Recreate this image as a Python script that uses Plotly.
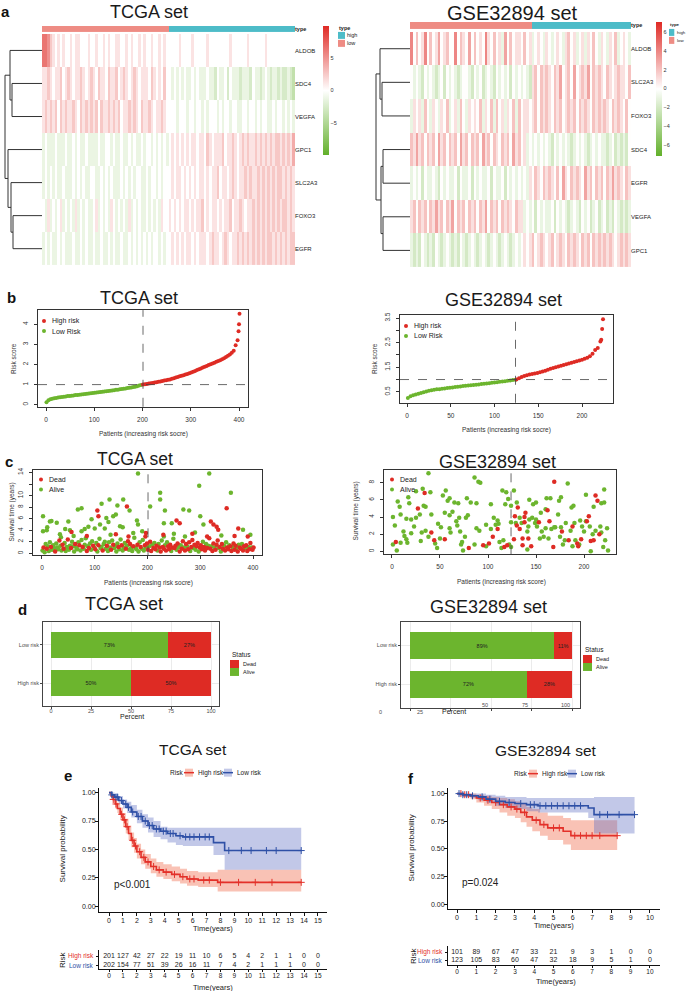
import plotly.graph_objects as go

W, H = 686, 991
FONT = "Liberation Sans, Arial, Helvetica, sans-serif"
RED = "#DE2B24"
GREEN = "#6CB52E"
KM_RED = "#E3312A"
KM_BLUE = "#2F50A6"
SALMON = "#EE8C84"
TEAL = "#4DBCC8"

# ======================= DATA =======================
# (a) heatmaps: expression bins per gene (digit 4 = 0), columns ordered low-risk -> high-risk
tcga_genes = ["ALDOB", "SDC4", "VEGFA", "GPC1", "SLC2A3", "FOXO3", "EGFR"]
tcga_bins = [
    "9986545454 4545544454 4544545445 5445454454 5445445454 4444544445 4444454444 4444544444 4544444454 4444444444",
    "5565455645 6545565456 5465546556 4565456545 5546545464 4343434334 3433343324 3342433323 3324332343 2332322321",
    "5656564656 5565465656 5646556565 6455656546 5565455654 4443444344 3443434443 4344344334 4344343443 3434434343",
    "3433343334 3343433433 3343344343 3433434334 3443434343 4545454545 5455465455 5645565456 5655656565 6566565657",
    "3434343343 3343434334 4334343433 3434343443 3434434344 4545545454 5455454556 4554565455 6565565656 5656656565",
    "4353434534 3435343433 4534343543 4343534343 3434343544 5454545545 4556454554 5455645565 4556565656 5656566565",
    "3434334343 3343343433 4334334343 3433434343 4343443434 4545454554 5455545655 4565455656 5656565656 6565656566",
]
tcga_n_low_cols = 50
tcga_bin_step = 1.3
tcga_merges = [("SDC4", "VEGFA", 30), ("ALDOB", "m0", 32), ("FOXO3", "EGFR", 29),
               ("SLC2A3", "m2", 31), ("GPC1", "m3", 34), ("m1", "m4", 37)]

gse_genes = ["ALDOB", "SLC2A3", "FOXO3", "SDC4", "EGFR", "VEGFA", "GPC1"]
gse_bins = [
    "8464584645 7456448465 4746454854 6453746455 4645345435 4345435645 3453546435 4354634543",
    "4343243432 3424343234 4324342343 2434342434 3432564656 5465745647 4565746565 4654565546",
    "3545364354 3546345364 3545463546 3645354636 4554564656 5465645656 4656546565 6546565464",
    "6575646564 7564656475 6465647564 6546564756 4534343434 3243434323 4343234343 3234232324",
    "3434243343 2434334243 3424343342 4334243434 3435465465 6546475465 6547564656 4657565465",
    "5646564657 5646574656 4656465746 5646565465 5343424343 3424343234 3243423423 4232432323",
    "3232432324 3234323243 2343234323 4323432343 4545645654 5645654656 5465646565 6565456565",
]
gse_n_low_cols = 44
gse_bin_step = 1.0
gse_merges = [("SLC2A3", "FOXO3", 28), ("ALDOB", "m0", 30), ("SDC4", "EGFR", 27),
              ("VEGFA", "GPC1", 27), ("m2", "m3", 29), ("m1", "m4", 34)]

# (b) risk score curves
tcga_low_score = [0.13, 0.22, 0.27, 0.30, 0.32, 0.34, 0.36, 0.37, 0.39, 0.40,
                  0.41, 0.43, 0.44, 0.45, 0.46, 0.48, 0.49, 0.50, 0.51, 0.52,
                  0.54, 0.55, 0.56, 0.57, 0.58, 0.60, 0.61, 0.62, 0.63, 0.64,
                  0.66, 0.67, 0.68, 0.70, 0.71, 0.72, 0.74, 0.75, 0.77, 0.78,
                  0.80, 0.81, 0.83, 0.85, 0.86, 0.88, 0.90, 0.92, 0.95, 0.98]
tcga_high_score = [1.00, 1.02, 1.03, 1.05, 1.07, 1.08, 1.10, 1.12, 1.14, 1.16,
                   1.18, 1.20, 1.22, 1.24, 1.26, 1.29, 1.32, 1.35, 1.38, 1.41,
                   1.44, 1.47, 1.50, 1.53, 1.56, 1.60, 1.64, 1.68, 1.72, 1.76,
                   1.80, 1.85, 1.89, 1.93, 1.97, 2.01, 2.05, 2.09, 2.13, 2.17,
                   2.21, 2.26, 2.31, 2.37, 2.43, 2.50, 2.58, 2.68, 2.95, 3.20]
tcga_top_patient = [399, 400, 401]
tcga_top_score = [3.65, 4.00, 4.52]
tcga_n_low = 201
tcga_cutoff = 1.0

gse_low_score = [0.25, 0.32, 0.36, 0.39, 0.42, 0.45, 0.48, 0.51, 0.54, 0.56,
                 0.58, 0.60, 0.61, 0.63, 0.64, 0.66, 0.67, 0.68, 0.70, 0.71,
                 0.72, 0.74, 0.75, 0.76, 0.77, 0.78, 0.79, 0.80, 0.82, 0.83,
                 0.84, 0.85, 0.87, 0.88, 0.89, 0.91, 0.92, 0.93, 0.95, 0.96,
                 0.98, 0.99]
gse_high_score = [1.00, 1.05, 1.10, 1.14, 1.17, 1.20, 1.22, 1.24, 1.27, 1.30,
                  1.33, 1.36, 1.40, 1.44, 1.47, 1.50, 1.53, 1.56, 1.59, 1.62,
                  1.65, 1.68, 1.71, 1.74, 1.77, 1.80, 1.84, 1.88, 1.95, 2.05,
                  2.20, 2.28, 2.55, 3.45]
gse_top_patient = [222, 223]
gse_top_score = [2.62, 3.05]
gse_n_low = 124
gse_cutoff = 1.0

# (c) survival time per patient (TCGA: dense low cluster sampled every 2nd patient + extra points)
tcga_cluster_time = [
    0.5, 1.0, 0.2, 1.6, 0.8, 1.2, 0.4, 1.9, 1.1, 0.6,
    1.4, 0.9, 0.3, 1.7, 1.0, 0.7, 2.2, 1.3, 0.5, 1.5,
    0.8, 1.8, 0.4, 1.1, 2.4, 0.6, 1.3, 0.9, 2.0, 1.2,
    0.3, 1.6, 1.0, 0.7, 1.9, 1.4, 0.5, 2.3, 1.1, 0.8,
    1.5, 2.6, 0.4, 1.2, 0.9, 1.7, 0.6, 2.1, 1.3, 1.0,
    0.7, 1.8, 0.3, 1.4, 2.5, 0.9, 1.1, 0.5, 1.6, 2.0,
    0.8, 1.3, 0.4, 1.9, 1.0, 0.6, 2.2, 1.5, 0.9, 1.2,
    0.3, 1.7, 1.1, 0.7, 2.4, 1.4, 0.5, 1.0, 1.8, 0.8,
    1.3, 2.1, 0.6, 1.6, 0.9, 0.4, 1.2, 2.7, 1.0, 0.7,
    1.5, 0.3, 1.9, 1.1, 0.8, 2.3, 0.5, 1.4, 1.0, 1.7,
    0.6, 1.2, 2.0, 0.4, 1.5, 0.9, 1.8, 0.7, 1.3, 0.5,
    1.6, 1.0, 0.3, 2.2, 1.1, 0.8, 1.4, 0.5, 1.9, 1.2,
    0.7, 1.5, 0.4, 1.0, 2.5, 0.9, 1.3, 0.6, 1.7, 1.1,
    0.3, 1.4, 0.8, 2.1, 1.0, 0.5, 1.6, 1.2, 0.7, 1.9,
    0.4, 1.1, 2.3, 0.9, 1.5, 0.6, 1.2, 1.8, 0.3, 1.0,
    1.4, 0.7, 2.0, 1.1, 0.5, 1.6, 0.9, 1.3, 2.6, 0.8,
    1.2, 0.4, 1.7, 1.0, 0.6, 1.5, 2.2, 0.9, 1.1, 0.3,
    1.6, 0.8, 1.3, 0.5, 1.9, 1.0, 0.7, 1.4, 1.2, 0.4,
    1.1, 1.7, 0.6, 1.3, 0.9, 0.3, 1.5, 1.0, 0.8, 1.6,
    0.5, 1.2, 0.9, 1.4, 0.4, 1.1, 0.7, 1.8, 1.0, 0.6,
    1.0]
tcga_cluster_status = ("ADAADAAADA" "AADAAADAAD" "DAAADAADAA" "ADAAADAADA" "AADADAAADA"
                       "DAADAAADAA" "ADAAADADAA" "AADAADAAAD" "ADADAADAAA" "DAADAAADAD"
                       "DADDADADDA" "ADDADDADAD" "DDADADDADA" "DADDADDADD" "ADDADADDAD"
                       "DDADDADADD" "ADDADDDADA" "DDADADDADD" "ADDDADADDA" "DDADDADDAD" "D")
tcga_alive_x = [2, 2, 9, 10, 15, 18, 28, 34, 36, 44, 50, 53, 68, 75, 75, 81, 88, 94, 100, 110,
                113, 119, 122, 126, 128, 135, 140, 143, 148, 153, 154, 166, 173, 180, 182, 182,
                205, 224, 224, 231, 231, 233, 246, 268, 271, 279, 298, 300, 306, 317, 358, 381,
                60, 130, 190, 250, 290, 340, 395]
tcga_alive_t = [6.4, 3.8, 4.0, 4.5, 5.5, 5.6, 5.3, 3.3, 2.8, 4.2, 5.5, 4.0, 7.6, 7.8, 3.8, 4.2,
                4.6, 5.9, 4.3, 5.0, 8.6, 4.3, 6.1, 5.4, 9.3, 6.4, 6.7, 8.3, 4.7, 4.5, 9.3, 7.4,
                3.5, 5.7, 5.0, 13.8, 8.1, 10.5, 9.3, 5.2, 2.9, 7.4, 5.2, 7.6, 2.9, 7.4, 11.7,
                6.4, 5.0, 13.8, 10.5, 4.1, 3.0, 3.2, 3.8, 3.4, 3.6, 3.1, 3.2]
tcga_dead_x = [56, 105, 107, 161, 164, 196, 197, 255, 261, 313, 320, 325, 331, 334, 350, 372,
               85, 140, 230, 285, 365, 390]
tcga_dead_t = [3.7, 7.4, 6.4, 8.1, 2.9, 2.9, 3.5, 5.7, 5.2, 2.9, 5.5, 5.0, 4.6, 4.1, 7.8, 4.3,
               3.0, 3.3, 3.2, 3.4, 3.0, 2.9]

gse_alive_x = [38, 86, 90, 92, 183, 6, 8, 17, 18, 25, 32, 40, 33, 35, 53, 56, 58, 60, 65, 69,
               78, 82, 88, 103, 115, 118, 119, 121, 124, 127, 130, 143, 147, 150, 161, 165,
               160, 174, 176, 187, 189, 202, 210, 218, 221, 221,
               1, 3, 1, 5, 9, 9, 12, 13, 15, 16, 15, 20, 20, 23, 25, 29, 30, 31, 35, 38, 41,
               45, 47, 48, 50, 51, 55, 60, 61, 60, 63, 67, 68, 70, 71, 72, 73, 74, 76, 77, 79,
               86, 88, 91, 98, 98, 103, 106, 108, 110, 111, 112, 114, 116, 122, 124,
               124, 129, 133, 135, 141, 141, 142, 143, 146, 149, 150, 151, 154, 155, 156, 158,
               160, 163, 166, 169, 170, 173, 175, 176, 178, 180, 181, 186, 188, 190, 191, 195,
               196, 198, 200, 202, 206, 207, 209, 212, 217, 218, 220, 222, 224, 225]
gse_alive_t = [9.1, 8.6, 8.1, 8.0, 7.9, 5.8, 5.2, 6.3, 5.6, 7.0, 7.3, 6.9, 5.3, 5.2, 6.5, 7.1,
               5.9, 6.2, 5.7, 5.6, 6.2, 5.7, 5.6, 5.5, 7.1, 5.5, 6.9, 6.1, 5.3, 7.1, 5.7, 6.0,
               5.5, 5.7, 6.2, 6.2, 4.9, 5.9, 6.3, 5.1, 5.3, 6.6, 5.2, 5.6, 5.7, 7.2,
               4.0, 3.0, 0.8, 0.1, 4.3, 1.0, 2.3, 1.8, 1.4, 1.0, 3.8, 3.7, 2.1, 2.9, 3.9, 4.3,
               1.2, 2.2, 2.4, 1.7, 4.3, 0.9, 0.4, 3.2, 1.5, 2.8, 4.5, 2.7, 2.2, 4.2, 4.6, 3.5,
               3.0, 3.9, 2.3, 0.8, 1.1, 0.1, 1.7, 3.9, 4.2,
               0.8, 2.7, 2.4, 0.6, 3.1, 2.6, 3.9, 3.1, 3.6, 3.2, 1.1, 0.4, 1.3, 0.8, 0.5,
               3.4, 3.3, 3.9, 3.3, 2.3, 0.2, 2.9, 3.7, 3.9, 3.3, 3.7, 2.9, 1.5, 4.5, 2.3, 1.7,
               2.7, 1.5, 2.6, 2.8, 2.8, 4.3, 1.7, 2.8, 0.8, 1.3, 3.3, 2.4, 0.6, 3.3, 1.3, 0.8,
               3.6, 2.9, 2.3, 3.5, 2.9, 0.0, 2.0, 2.4, 2.9, 2.2, 0.5, 1.3, 2.7, 0.1]
gse_dead_x = [4, 27, 34, 41, 44, 55, 80, 95, 101, 105, 110, 117, 120,
              127, 128, 130, 131, 133, 136, 136, 138, 139, 138, 142, 145, 153, 162, 164, 168,
              169, 177, 184, 188, 193, 194, 197, 203, 205, 207, 210, 212, 214, 216]
gse_dead_t = [1.1, 5.0, 6.8, 2.2, 1.3, 1.4, 0.4, 0.7, 0.9, 1.7, 2.6, 0.5, 0.7,
              1.4, 4.1, 3.0, 5.1, 2.6, 1.5, 0.7, 4.0, 4.5, 3.4, 1.5, 0.6, 3.4, 4.8, 3.5, 0.5,
              8.1, 2.3, 1.3, 2.9, 0.9, 0.6, 1.4, 3.5, 4.1, 1.2, 1.3, 6.5, 5.9, 2.0]

# (d) status percentages
risk_groups = ["High risk", "Low risk"]
tcga_alive_pct = [50, 73]
tcga_dead_pct = [50, 27]
gse_alive_pct = [72, 89]
gse_dead_pct = [28, 11]

# (e/f) Kaplan-Meier estimates (time, survival, lower CI, upper CI)
tcga_hi_t = [0, 0.15, 0.3, 0.45, 0.6, 0.8, 1.0, 1.2, 1.4, 1.6, 1.8, 2.0, 2.3, 2.6, 3.0, 3.4, 3.9, 4.5, 5.1, 5.6, 6.4, 7.8, 13.8]
tcga_hi_s = [1.0, 0.97, 0.94, 0.90, 0.86, 0.81, 0.76, 0.70, 0.64, 0.58, 0.53, 0.48, 0.43, 0.39, 0.35, 0.32, 0.30, 0.28, 0.26, 0.24, 0.23, 0.21, 0.21]
tcga_hi_lo = [1.0, 0.95, 0.91, 0.86, 0.82, 0.76, 0.70, 0.64, 0.58, 0.52, 0.47, 0.42, 0.37, 0.33, 0.29, 0.26, 0.24, 0.22, 0.20, 0.18, 0.17, 0.13, 0.13]
tcga_hi_up = [1.0, 0.99, 0.97, 0.94, 0.91, 0.87, 0.82, 0.77, 0.71, 0.65, 0.60, 0.55, 0.50, 0.46, 0.42, 0.39, 0.37, 0.35, 0.33, 0.31, 0.30, 0.32, 0.32]
tcga_hi_cens = [0.3, 0.5, 0.9, 1.1, 1.3, 1.7, 1.9, 2.2, 2.5, 2.8, 3.2, 3.6, 4.1, 4.7, 5.3, 5.8, 6.1, 6.8, 7.2, 8.0, 9.3, 10.5, 11.7, 13.8]
tcga_lo_t = [0, 0.2, 0.4, 0.7, 1.0, 1.3, 1.6, 2.0, 2.4, 2.8, 3.2, 3.7, 4.2, 4.8, 5.3, 7.5, 8.3, 13.8]
tcga_lo_s = [1.0, 0.98, 0.96, 0.93, 0.90, 0.87, 0.83, 0.79, 0.75, 0.71, 0.68, 0.66, 0.64, 0.62, 0.61, 0.56, 0.49, 0.49]
tcga_lo_lo = [1.0, 0.96, 0.93, 0.90, 0.86, 0.82, 0.78, 0.73, 0.69, 0.65, 0.61, 0.59, 0.56, 0.54, 0.53, 0.45, 0.32, 0.32]
tcga_lo_up = [1.0, 1.0, 0.99, 0.97, 0.94, 0.92, 0.89, 0.85, 0.81, 0.78, 0.75, 0.70, 0.69, 0.69, 0.69, 0.69, 0.69, 0.69]
tcga_lo_cens = [0.2, 0.5, 0.6, 0.9, 1.2, 1.4, 1.7, 2.1, 2.3, 2.6, 2.9, 3.1, 3.4, 3.6, 3.9, 4.1, 4.4, 4.6,
                5.1, 5.5, 5.8, 6.1, 6.5, 6.9, 7.2, 8.6, 9.5, 10.2, 11.3, 12.0, 13.8]

gse_hi_t = [0, 0.3, 0.7, 1.0, 1.4, 1.8, 2.2, 2.6, 3.0, 3.3, 3.6, 3.9, 4.3, 4.7, 5.5, 5.9, 8.3]
gse_hi_s = [1.0, 0.99, 0.98, 0.96, 0.94, 0.92, 0.90, 0.88, 0.86, 0.83, 0.79, 0.76, 0.72, 0.69, 0.66, 0.62, 0.62]
gse_hi_lo = [1.0, 0.97, 0.95, 0.92, 0.89, 0.86, 0.83, 0.80, 0.78, 0.74, 0.70, 0.66, 0.62, 0.58, 0.54, 0.49, 0.49]
gse_hi_up = [1.0, 1.0, 1.0, 0.99, 0.98, 0.97, 0.96, 0.95, 0.93, 0.91, 0.88, 0.86, 0.83, 0.80, 0.78, 0.76, 0.76]
gse_hi_cens = [0.2, 0.4, 0.6, 1.2, 1.6, 2.0, 2.4, 2.8, 3.1, 3.5, 4.1, 4.5, 5.0, 5.3, 6.1, 6.4, 6.7, 7.0, 7.4, 8.3]
gse_lo_t = [0, 0.3, 0.7, 1.1, 1.5, 2.0, 2.5, 3.0, 3.6, 4.2, 6.8, 7.1, 9.2]
gse_lo_s = [1.0, 0.99, 0.98, 0.97, 0.95, 0.93, 0.92, 0.91, 0.90, 0.89, 0.87, 0.81, 0.81]
gse_lo_lo = [1.0, 0.97, 0.96, 0.94, 0.92, 0.89, 0.87, 0.86, 0.84, 0.83, 0.78, 0.64, 0.64]
gse_lo_up = [1.0, 1.0, 1.0, 1.0, 0.99, 0.98, 0.97, 0.97, 0.96, 0.96, 0.96, 0.97, 0.97]
gse_lo_cens = [0.1, 0.3, 0.5, 0.8, 1.3, 1.7, 2.2, 2.7, 3.3, 3.8, 4.0, 4.3, 4.6, 4.9, 5.2, 5.5, 5.8, 6.1, 6.4, 7.4, 7.8, 8.4, 9.2]

tcga_p_text = "p<0.001"
gse_p_text = "p=0.024"

# number at risk tables
tcga_years = list(range(0, 16))
tcga_risk_high = [201, 127, 42, 27, 22, 19, 11, 10, 6, 5, 4, 2, 1, 1, 0, 0]
tcga_risk_low = [202, 154, 77, 51, 39, 26, 16, 11, 7, 4, 2, 1, 1, 1, 0, 0]
gse_years = list(range(0, 11))
gse_risk_high = [101, 89, 67, 47, 33, 21, 9, 3, 1, 0, 0]
gse_risk_low = [123, 105, 83, 60, 47, 32, 18, 9, 5, 1, 0]

# ======================= FIGURE =======================
fig = go.Figure()
layout = {}
ann = []
shapes = []


def axname(i):
    return ("x" if i == 1 else f"x{i}"), ("y" if i == 1 else f"y{i}")


def set_axes(i, xpx, ypx, xkw, ykw):
    xn, yn = axname(i)
    xk = "xaxis" if i == 1 else f"xaxis{i}"
    yk = "yaxis" if i == 1 else f"yaxis{i}"
    d = dict(domain=[xpx[0] / W, xpx[1] / W], anchor=yn)
    d.update(xkw)
    layout[xk] = d
    d = dict(domain=[1 - ypx[1] / H, 1 - ypx[0] / H], anchor=xn)
    d.update(ykw)
    layout[yk] = d


HIDE = dict(visible=False, showgrid=False, zeroline=False)


def text(x, y, s, size=7, color="#222", xa="center", ya="middle", angle=0, bold=False):
    if bold:
        s = f"<b>{s}</b>"
    ann.append(dict(x=x / W, y=1 - y / H, xref="paper", yref="paper", text=s, showarrow=False,
                    font=dict(size=size, color=color, family=FONT), xanchor=xa, yanchor=ya,
                    textangle=angle, borderpad=0))


def rect(x0, y0, x1, y1, color, line=None):
    shapes.append(dict(type="rect", xref="paper", yref="paper", x0=x0 / W, x1=x1 / W,
                       y0=1 - y1 / H, y1=1 - y0 / H, fillcolor=color,
                       line=dict(width=0) if line is None else line))


def dot(x, y, r, color):
    shapes.append(dict(type="circle", xref="paper", yref="paper", x0=(x - r) / W, x1=(x + r) / W,
                       y0=1 - (y + r) / H, y1=1 - (y - r) / H, fillcolor=color, line=dict(width=0)))


def hline_px(x0, x1, y, color, width=1.5):
    shapes.append(dict(type="line", xref="paper", yref="paper", x0=x0 / W, x1=x1 / W,
                       y0=1 - y / H, y1=1 - y / H, line=dict(color=color, width=width)))


def decode(rows, step):
    rows = [r.replace(" ", "") for r in rows]
    n = min(len(r) for r in rows)
    return [[(int(c) - 4) * step for c in r[:n]] for r in rows], n


def dendro(leaves, merges):
    pos = {g: (i, 0.0) for i, g in enumerate(leaves)}
    xs, ys = [], []
    for k, (a, b, h) in enumerate(merges):
        ya, ha = pos[a]
        yb, hb = pos[b]
        xs += [ha, h, h, hb, None]
        ys += [ya, ya, yb, yb, None]
        pos[f"m{k}"] = ((ya + yb) / 2, h)
    return xs, ys


HM_SCALE = [[0, "#62B02A"], [0.5, "#FFFFFF"], [1, "#DF2A25"]]
TYPE_SCALE = [[0, SALMON], [0.5, SALMON], [0.5, TEAL], [1, TEAL]]


def heat_panel(base, genes, bins, step, n_low, merges, hx, hy, bar_y, dx, zlim, cbx, cby, cbticks):
    z, n = decode(bins, step)
    xm, ym = axname(base)
    fig.add_trace(go.Heatmap(z=z, x=list(range(n)), y=list(range(len(genes))), colorscale=HM_SCALE,
                             zmin=-zlim[0], zmax=zlim[1], xaxis=xm, yaxis=ym,
                             colorbar=dict(x=cbx[0] / W, xanchor="left", y=1 - cby[0] / H, yanchor="top",
                                           len=cby[1] - cby[0], lenmode="pixels", thickness=cbx[1] - cbx[0],
                                           thicknessmode="pixels", outlinewidth=0, xpad=0, ypad=0,
                                           tickvals=cbticks, ticks="",
                                           tickfont=dict(size=5.5, color="#333", family=FONT))))
    set_axes(base, hx, hy, dict(HIDE, range=[-0.5, n - 0.5]),
             dict(range=[len(genes) - 0.5, -0.5], tickvals=list(range(len(genes))), ticktext=genes,
                  side="right", ticks="", showgrid=False, zeroline=False, showline=False,
                  ticklabelstandoff=-1, tickfont=dict(size=6, color="#222", family=FONT)))
    xb, yb = axname(base + 1)
    types = [0] * n_low + [1] * (n - n_low)
    fig.add_trace(go.Heatmap(z=[types], x=list(range(n)), y=[0], colorscale=TYPE_SCALE, zmin=0, zmax=1,
                             showscale=False, xaxis=xb, yaxis=yb))
    set_axes(base + 1, hx, bar_y, dict(HIDE, range=[-0.5, n - 0.5]),
             dict(range=[-0.5, 0.5], tickvals=[0], ticktext=["<b>type</b>"], side="right", ticks="",
                  showgrid=False, zeroline=False, showline=False, ticklabelstandoff=-1,
                  tickfont=dict(size=5.5, color="#222", family=FONT)))
    xd_, yd_ = axname(base + 2)
    xs, ys = dendro(genes, merges)
    fig.add_trace(go.Scatter(x=xs, y=ys, mode="lines", line=dict(color="#333", width=1),
                             xaxis=xd_, yaxis=yd_, hoverinfo="skip"))
    set_axes(base + 2, dx, hy, dict(HIDE, range=[dx[1] - dx[0], 0]),
             dict(HIDE, range=[len(genes) - 0.5, -0.5]))


heat_panel(1, tcga_genes, tcga_bins, tcga_bin_step, tcga_n_low_cols, tcga_merges,
           (42, 295), (31, 263), (23, 29), (3, 42), (10, 10), (323, 329), (23, 152), [-5, 0, 5])
heat_panel(4, gse_genes, gse_bins, gse_bin_step, gse_n_low_cols, gse_merges,
           (410, 631), (29, 265), (19, 26), (372, 410), (7.2, 7.1), (656, 662), (19, 153),
           [-6, -4, -2, 0, 2, 4, 6])

# type legends
for (lx, ly, fs, gap) in [(338, 25, 5.5, 8.5), (669, 22, 4.4, 6.8)]:
    text(lx, ly, "<b>type</b>", size=fs, xa="left")
    rect(lx, ly + 4, lx + gap - 1.5, ly + 11, TEAL)
    rect(lx, ly + 12, lx + gap - 1.5, ly + 19, SALMON)
    text(lx + gap, ly + 7.5, "high", size=fs, xa="left")
    text(lx + gap, ly + 15.5, "low", size=fs, xa="left")

BASE_AX = dict(showline=True, linecolor="#333", linewidth=1, mirror=True, ticks="outside", ticklen=3,
               tickcolor="#333", tickwidth=1, showgrid=False, zeroline=False,
               tickfont=dict(size=6.5, color="#333", family=FONT), ticklabelstandoff=3)


def dashed(i, xv, yv):
    xn, yn = axname(i)
    shapes.append(dict(type="line", xref=xn, yref=f"{yn} domain", x0=xv, x1=xv, y0=0, y1=1,
                       line=dict(color="#444", width=0.8, dash="dash")))
    if yv is not None:
        shapes.append(dict(type="line", xref=f"{xn} domain", yref=yn, x0=0, x1=1, y0=yv, y1=yv,
                           line=dict(color="#444", width=0.8, dash="dash")))


# ---- (b) risk score ----
def risk_panel(i, low, low_step, high, high_start, high_step, top_p, top_s, n_low, cutoff,
               xpx, ypx, xr, yr, xt, ytv, ytt):
    xn, yn = axname(i)
    lx = [1 + k * low_step for k in range(len(low))]
    hx = [high_start + k * high_step for k in range(len(high))] + top_p
    fig.add_trace(go.Scatter(x=lx, y=low, mode="markers", marker=dict(color=GREEN, size=4, line=dict(width=0)),
                             xaxis=xn, yaxis=yn))
    fig.add_trace(go.Scatter(x=hx, y=high + top_s, mode="markers",
                             marker=dict(color=RED, size=4, line=dict(width=0)), xaxis=xn, yaxis=yn))
    set_axes(i, xpx, ypx, dict(BASE_AX, range=xr, tickvals=xt),
             dict(BASE_AX, range=yr, tickvals=ytv, ticktext=ytt, tickangle=-90))
    dashed(i, n_low, cutoff)


risk_panel(7, tcga_low_score, 4, tcga_high_score, 201, 4, tcga_top_patient, tcga_top_score, tcga_n_low,
           tcga_cutoff, (38, 248), (308, 405), [-16.6, 418.6], [-0.1, 4.7], [0, 100, 200, 300, 400],
           [0, 1, 2, 3, 4], ["0", "1", "2", "3", "4"])
risk_panel(8, gse_low_score, 3, gse_high_score, 125, 3, gse_top_patient, gse_top_score, gse_n_low,
           gse_cutoff, (400, 613), (313, 401), [-8, 235.4], [0.055, 3.62], [0, 50, 100, 150, 200],
           [0.5, 1.0, 1.5, 2.0, 2.5, 3.0, 3.5], ["0.5", "", "1.5", "", "2.5", "", "3.5"])

# ---- (c) survival status ----
c_x = list(range(1, 402, 2))
c_alive_x = [x for x, s in zip(c_x, tcga_cluster_status) if s == "A"] + tcga_alive_x
c_alive_t = [t for t, s in zip(tcga_cluster_time, tcga_cluster_status) if s == "A"] + tcga_alive_t
c_dead_x = [x for x, s in zip(c_x, tcga_cluster_status) if s == "D"] + tcga_dead_x
c_dead_t = [t for t, s in zip(tcga_cluster_time, tcga_cluster_status) if s == "D"] + tcga_dead_t


def status_panel(i, ax_, at_, dx_, dt_, xpx, ypx, xr, yr, xt, ytv, ytt, ncut):
    xn, yn = axname(i)
    fig.add_trace(go.Scatter(x=ax_, y=at_, mode="markers", marker=dict(color=GREEN, size=4.5, line=dict(width=0)),
                             xaxis=xn, yaxis=yn))
    fig.add_trace(go.Scatter(x=dx_, y=dt_, mode="markers", marker=dict(color=RED, size=4.5, line=dict(width=0)),
                             xaxis=xn, yaxis=yn))
    set_axes(i, xpx, ypx, dict(BASE_AX, range=xr, tickvals=xt),
             dict(BASE_AX, range=yr, tickvals=ytv, ticktext=ytt, tickangle=-90))
    dashed(i, ncut, None)


status_panel(9, c_alive_x, c_alive_t, c_dead_x, c_dead_t, (33, 262), (468, 554), [-17, 417], [-0.35, 14.5],
             [0, 100, 200, 300, 400], [0, 2, 4, 6, 8, 10, 12, 14], ["0", "2", "4", "6", "8", "10", "", "14"],
             tcga_n_low)
status_panel(10, gse_alive_x, gse_alive_t, gse_dead_x, gse_dead_t, (384, 616), (468, 553), [-8.3, 233.3],
             [-0.35, 9.53], [0, 50, 100, 150, 200], [0, 2, 4, 6, 8], ["0", "2", "4", "6", "8"], gse_n_low)

# ---- (d) stacked bars ----
GG_X = dict(showline=True, mirror=True, linecolor="#444", linewidth=0.8, ticks="outside", ticklen=2,
            tickcolor="#444", showgrid=True, gridcolor="#EBEBEB", gridwidth=0.8, zeroline=False,
            ticklabelstandoff=-2, tickfont=dict(size=5.5, color="#4D4D4D", family=FONT))
GG_Y = dict(showline=True, mirror=True, linecolor="#444", linewidth=0.8, ticks="outside", ticklen=2,
            tickcolor="#444", showgrid=True, gridcolor="#EBEBEB", gridwidth=0.8, zeroline=False,
            ticklabelstandoff=0,
            tickfont=dict(size=5.5, color="#4D4D4D", family=FONT), type="category",
            categoryorder="array", categoryarray=risk_groups, range=[-0.6, 1.6])


def bar_panel(i, alive, dead, xpx, ypx, xr, show_ticks):
    xn, yn = axname(i)
    fig.add_trace(go.Bar(y=risk_groups, x=alive, orientation="h", marker=dict(color=GREEN, line=dict(width=0)),
                         width=0.7, text=[f"{v}%" for v in alive], textposition="inside",
                         insidetextanchor="middle", textangle=0,
                         textfont=dict(size=5.5, color="#222", family=FONT), xaxis=xn, yaxis=yn))
    fig.add_trace(go.Bar(y=risk_groups, x=dead, orientation="h", marker=dict(color=RED, line=dict(width=0)),
                         width=0.7, text=[f"{v}%" for v in dead], textposition="inside",
                         insidetextanchor="middle", textangle=0,
                         textfont=dict(size=5.5, color="#222", family=FONT), xaxis=xn, yaxis=yn))
    xk = dict(GG_X, range=xr, tickvals=[0, 25, 50, 75, 100], showticklabels=show_ticks)
    set_axes(i, xpx, ypx, xk, GG_Y)


bar_panel(11, tcga_alive_pct, tcga_dead_pct, (43, 219), (621, 705), [-5, 105], True)
bar_panel(12, gse_alive_pct, gse_dead_pct, (401, 580), (621, 707), [-5.6, 104.9], False)

# misplaced tick labels of GSE (d) as in the original figure
for lab, px, py in [("0", 380, 711), ("25", 420, 711), ("50", 485, 704), ("75", 525, 704), ("100", 565, 704)]:
    text(px, py, lab, size=5.5, color="#4D4D4D")

# status legends
for (lx, ly) in [(230, 653), (583, 648)]:
    text(lx + 1, ly, "Status", size=6.5, xa="left")
    rect(lx, ly + 6, lx + 9, ly + 14, RED)
    rect(lx, ly + 14, lx + 9, ly + 22, GREEN)
    text(lx + 12, ly + 10, "Dead", size=5.5, xa="left")
    text(lx + 12, ly + 18, "Alive", size=5.5, xa="left")


# ---- (e/f) Kaplan-Meier ----
def step_val(t, ts, ss):
    v = ss[0]
    for a, b in zip(ts, ss):
        if a <= t:
            v = b
    return v


KM_AX = dict(showline=True, linecolor="#111", linewidth=1.1, ticks="outside", ticklen=3, tickcolor="#111",
             showgrid=False, zeroline=False, ticklabelstandoff=-2,
             tickfont=dict(size=7, color="#222", family=FONT))


def km_panel(i, groups, xpx, ypx, xr, yr, xt):
    xn, yn = axname(i)
    for (ts, ss, lo, up, cens, col, fillc) in groups:
        fig.add_trace(go.Scatter(x=ts, y=lo, mode="lines", line=dict(width=0, shape="hv"), xaxis=xn, yaxis=yn,
                                 hoverinfo="skip"))
        fig.add_trace(go.Scatter(x=ts, y=up, mode="lines", line=dict(width=0, shape="hv"), fill="tonexty",
                                 fillcolor=fillc, xaxis=xn, yaxis=yn, hoverinfo="skip"))
    for (ts, ss, lo, up, cens, col, fillc) in groups:
        fig.add_trace(go.Scatter(x=ts, y=ss, mode="lines", line=dict(color=col, width=1.6, shape="hv"),
                                 xaxis=xn, yaxis=yn))
        fig.add_trace(go.Scatter(x=cens, y=[step_val(c, ts, ss) for c in cens], mode="markers",
                                 marker=dict(symbol="cross-thin", size=5, line=dict(color=col, width=1)),
                                 xaxis=xn, yaxis=yn))
    set_axes(i, xpx, ypx, dict(KM_AX, range=xr, tickvals=xt),
             dict(KM_AX, range=yr, tickvals=[0, 0.25, 0.5, 0.75, 1.0],
                  ticktext=["0.00", "0.25", "0.50", "0.75", "1.00"]))


RED_FILL = "rgba(242,120,90,0.45)"
BLUE_FILL = "rgba(95,110,195,0.38)"
km_panel(13, [(tcga_hi_t, tcga_hi_s, tcga_hi_lo, tcga_hi_up, tcga_hi_cens, KM_RED, RED_FILL),
              (tcga_lo_t, tcga_lo_s, tcga_lo_lo, tcga_lo_up, tcga_lo_cens, KM_BLUE, BLUE_FILL)],
         (99, 327), (787, 912), [-0.72, 15.65], [-0.053, 1.044], tcga_years)
km_panel(14, [(gse_hi_t, gse_hi_s, gse_hi_lo, gse_hi_up, gse_hi_cens, KM_RED, RED_FILL),
              (gse_lo_t, gse_lo_s, gse_lo_lo, gse_lo_up, gse_lo_cens, KM_BLUE, BLUE_FILL)],
         (448, 660), (787, 909), [-0.47, 10.52], [-0.045, 1.054], list(range(0, 11)))


# risk tables (aligned with the KM time axes)
def table_panel(i, years, high, low, xpx, ypx, xr, yr):
    xn, yn = axname(i)
    fig.add_trace(go.Scatter(x=years, y=[1] * len(years), mode="text", text=[str(v) for v in high],
                             textfont=dict(size=7, color="#222", family=FONT), xaxis=xn, yaxis=yn))
    fig.add_trace(go.Scatter(x=years, y=[0] * len(years), mode="text", text=[str(v) for v in low],
                             textfont=dict(size=7, color="#222", family=FONT), xaxis=xn, yaxis=yn))
    set_axes(i, xpx, ypx, dict(KM_AX, range=xr, tickvals=years, linewidth=1, ticklen=2,
                               tickfont=dict(size=6.5, color="#222", family=FONT)),
             dict(showline=True, linecolor="#111", linewidth=1, ticks="outside", ticklen=2, tickcolor="#111",
                  tickvals=[0, 1], showticklabels=False, showgrid=False, zeroline=False, range=yr))


table_panel(15, tcga_years, tcga_risk_high, tcga_risk_low, (99, 327), (950, 969), [-0.72, 15.65], [-0.44, 1.67])
table_panel(16, gse_years, gse_risk_high, gse_risk_low, (448, 660), (946, 965), [-0.47, 10.52], [-0.62, 1.75])

# ---------------- text ----------------
for s, x, y in [("a", 5, 9), ("b", 11, 295), ("c", 9, 460), ("d", 22, 608), ("e", 68, 775), ("f", 411, 778)]:
    text(x, y, s, size=15, color="#111", bold=True)
for s, x, y, sz in [("TCGA set", 149, 9, 18), ("GSE32894 set", 512, 10, 20),
                    ("TCGA set", 139, 296, 18), ("GSE32894 set", 503, 298, 18),
                    ("TCGA set", 135, 457, 17.5), ("GSE32894 set", 497, 460, 18),
                    ("TCGA set", 124, 603, 18), ("GSE32894 set", 488, 606, 18),
                    ("TCGA set", 193, 749, 15.5), ("GSE32894 set", 546, 750, 15.5)]:
    text(x, y, s, size=sz, color="#1a1a1a")

# axis titles
text(143, 432, "Patients (increasing risk socre)", size=6.5, color="#333")
text(14, 356, "Risk score", size=6.5, color="#333", angle=-90)
text(506, 428, "Patients (increasing risk socre)", size=6.5, color="#333")
text(375, 357, "Risk score", size=6.5, color="#333", angle=-90)
text(148, 582, "Patients (increasing risk socre)", size=6.5, color="#333")
text(12, 511, "Survival time (years)", size=6.5, color="#333", angle=-90)
text(501, 581, "Patients (increasing risk score)", size=6.5, color="#333")
text(356, 510, "Survival time (years)", size=6.5, color="#333", angle=-90)
text(132, 716, "Percent", size=7, color="#222")
text(454, 711, "Percent", size=7, color="#222")
text(213, 928, "Time(years)", size=7.5, color="#222")
text(554, 925, "Time(years)", size=7.5, color="#222")
text(62, 849, "Survival probability", size=8, color="#222", angle=-90)
text(411, 848, "Survival probability", size=8, color="#222", angle=-90)
text(113, 884, tcga_p_text, size=10, color="#222", xa="left")
text(461, 882, gse_p_text, size=10, color="#222", xa="left")

# legends (b, c)
for (lx, ly, n1, n2) in [(44, 319, "High risk", "Low Risk"), (406, 324, "High risk", "Low Risk"),
                         (41, 478, "Dead", "Alive"), (392, 478, "Dead", "Alive")]:
    dot(lx, ly, 2, RED)
    dot(lx, ly + 10, 2, GREEN)
    text(lx + 7, ly, n1, size=7, xa="left", color="#222")
    text(lx + 7, ly + 10, n2, size=7, xa="left", color="#222")

# KM legends
for (x0, y0) in [(169, 772), (513, 773)]:
    text(x0, y0, "Risk", size=6.5, xa="left")
    rect(x0 + 16, y0 - 4, x0 + 24, y0 + 4, RED_FILL)
    hline_px(x0 + 15, x0 + 25, y0, KM_RED)
    text(x0 + 28, y0, "High risk", size=6.5, xa="left")
    rect(x0 + 55, y0 - 4, x0 + 63, y0 + 4, BLUE_FILL)
    hline_px(x0 + 54, x0 + 64, y0, KM_BLUE)
    text(x0 + 67, y0, "Low risk", size=6.5, xa="left")

# risk table labels
text(95, 956, "High risk", size=6.5, color=KM_RED, xa="right")
text(95, 965, "Low risk", size=6.5, color=KM_BLUE, xa="right")
text(62, 960, "Risk", size=8, color="#222", angle=-90)
text(213, 987, "Time(years)", size=7.5, color="#222")
text(444, 952, "High risk", size=6.5, color=KM_RED, xa="right")
text(444, 960, "Low risk", size=6.5, color=KM_BLUE, xa="right")
text(413, 956, "Risk", size=8, color="#222", angle=-90)
text(556, 981, "Time(years)", size=7.5, color="#222")

layout.update(dict(width=W, height=H, margin=dict(l=0, r=0, t=0, b=0), paper_bgcolor="white",
                   plot_bgcolor="rgba(0,0,0,0)", showlegend=False, barmode="stack",
                   font=dict(family=FONT), annotations=ann, shapes=shapes))
fig.update_layout(**layout)
fig.write_html("out.html", config={"displayModeBar": False},
               post_script="document.body.style.margin='0px';document.body.style.padding='0px';")
